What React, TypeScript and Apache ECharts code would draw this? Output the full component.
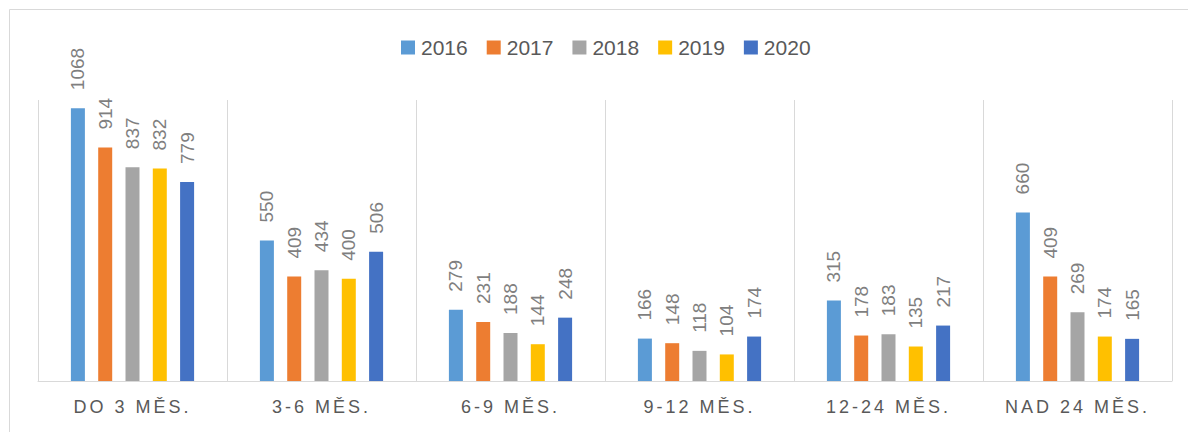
import React, { useEffect, useRef } from "react";
import * as echarts from "echarts";

const categories = ["DO 3 MĚS.", "3-6 MĚS.", "6-9 MĚS.", "9-12 MĚS.", "12-24 MĚS.", "NAD 24 MĚS."];
const years = ["2016", "2017", "2018", "2019", "2020"];
const colors = ["#5b9bd5", "#ed7d31", "#a5a5a5", "#ffc000", "#4472c4"];
const values2016 = [1068, 550, 279, 166, 315, 660];
const values2017 = [914, 409, 231, 148, 178, 409];
const values2018 = [837, 434, 188, 118, 183, 269];
const values2019 = [832, 400, 144, 104, 135, 174];
const values2020 = [779, 506, 248, 174, 217, 165];
const seriesValues = [values2016, values2017, values2018, values2019, values2020];

const FONT = "Liberation Sans, Arial, sans-serif";

export default function App() {
  const ref = useRef<HTMLDivElement>(null);
  useEffect(() => {
    if (!ref.current) return;
    const chart = echarts.init(ref.current, undefined, { renderer: "svg" });
    const applySpacing = () => {
      const el = ref.current;
      if (!el) return;
      el.querySelectorAll("text").forEach((t) => {
        if (categories.includes((t.textContent || "").trim())) {
          (t as SVGTextElement).style.letterSpacing = "3px";
        }
      });
    };
    chart.on("finished", applySpacing);
    chart.setOption({
      animation: false,
      graphic: [
        {
          type: "rect",
          shape: { x: 9.5, y: 9.5, width: 1300, height: 600 },
          style: { fill: "none", stroke: "#d9d9d9", lineWidth: 1 },
          silent: true,
        },
      ],
      legend: {
        left: 396,
        top: 32,
        itemWidth: 14,
        itemHeight: 14,
        itemGap: 19,
        icon: "rect",
        textStyle: { color: "#595959", fontSize: 21, fontFamily: FONT, padding: [0, 0, 0, 1] },
        data: years,
      },
      grid: { left: 38, right: 16, top: 100, bottom: 51 },
      xAxis: {
        type: "category",
        data: categories,
        axisLine: { lineStyle: { color: "#d9d9d9", width: 1 } },
        axisTick: { show: false },
        splitLine: { show: true, lineStyle: { color: "#d9d9d9", width: 1 } },
        axisLabel: {
          color: "#595959",
          fontSize: 18,
          fontFamily: FONT,
          margin: 17,
          interval: 0,
        },
      },
      yAxis: {
        type: "value",
        min: 0,
        max: 1100,
        show: false,
        splitLine: { show: false },
      },
      series: years.map((y, i) => ({
        name: y,
        type: "bar",
        data: seriesValues[i],
        barWidth: 14,
        barGap: "95%",
        itemStyle: { color: colors[i] },
        label: {
          show: true,
          position: "top",
          rotate: 90,
          align: "left",
          verticalAlign: "middle",
          distance: 18,
          color: "#7f7f7f",
          fontSize: 19,
          fontFamily: FONT,
        },
      })),
    });
    applySpacing();
    const t = setTimeout(applySpacing, 50);
    return () => {
      clearTimeout(t);
      chart.dispose();
    };
  }, []);
  return (
    <div
      ref={ref}
      style={{ position: "fixed", left: 0, top: 0, width: 1188, height: 432, background: "#fff" }}
    />
  );
}
